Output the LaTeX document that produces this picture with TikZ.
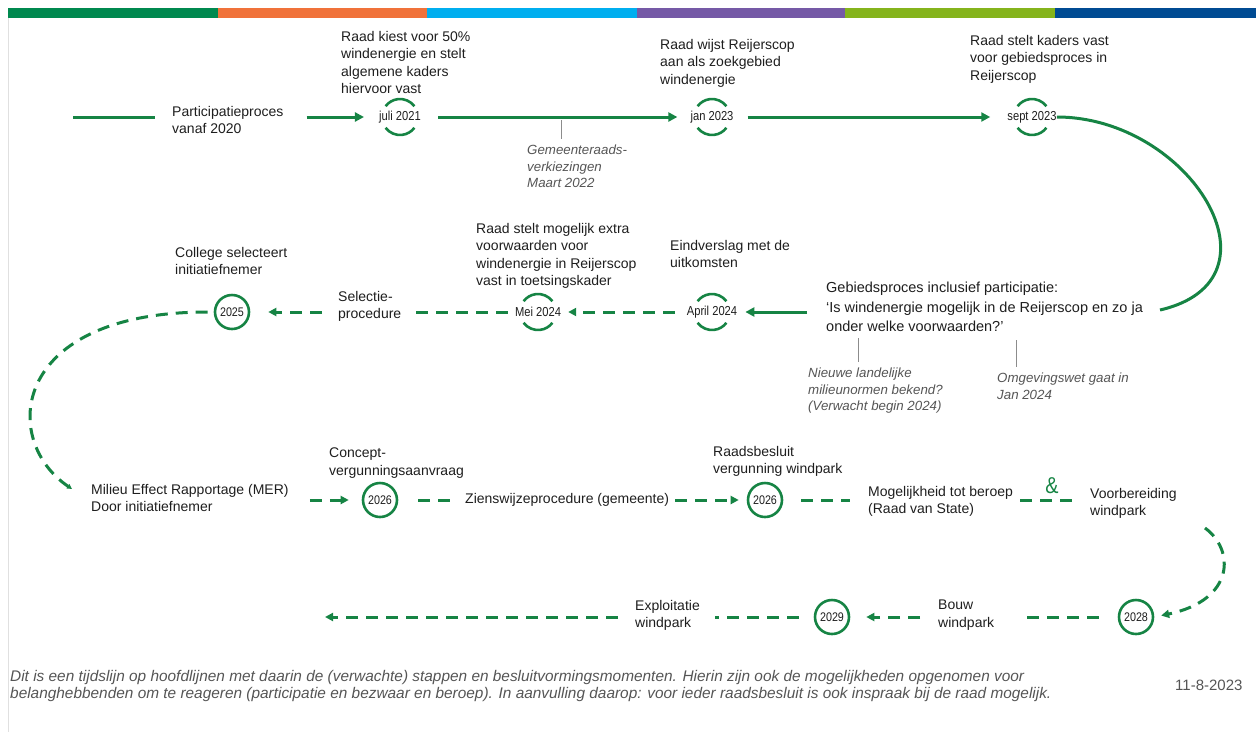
\documentclass[tikz,border=0pt]{standalone}
\usepackage{fontspec}
\setmainfont{Liberation Sans}
\newfontfamily\smal[FakeStretch=0.86]{Liberation Sans}
\usetikzlibrary{arrows.meta,positioning}
\definecolor{tlgroen}{RGB}{22,132,68}
\definecolor{balkgroen}{RGB}{0,137,79}
\definecolor{balkoranje}{RGB}{240,114,58}
\definecolor{balkblauw}{RGB}{0,174,239}
\definecolor{balkpaars}{RGB}{117,89,166}
\definecolor{balklime}{RGB}{133,180,28}
\definecolor{balknavy}{RGB}{0,75,147}
\definecolor{tekst}{RGB}{30,30,30}
\definecolor{grijs}{RGB}{85,85,85}

\begin{document}
\begin{tikzpicture}[x=1pt,y=-1pt]
  \tikzstyle{stap}=[anchor=north west, align=left, inner sep=0pt, text=tekst, font=\fontsize{14}{17.5}\selectfont]
  \tikzstyle{noot}=[stap, text=grijs, font=\itshape\fontsize{13.3}{16.5}\selectfont]
  \tikzstyle{datum}=[inner sep=0pt, text=tekst, font=\smal\fontsize{13}{15}\selectfont]
  \tikzstyle{jaar}=[circle, draw=tlgroen, line width=2.6pt, minimum size=34pt, inner sep=0pt, text=tekst, font=\smal\fontsize{12.5}{14}\selectfont]
  \tikzstyle{lijn}=[draw=tlgroen, line width=3pt]
  \tikzstyle{pijl}=[lijn, -{Triangle[length=9pt,width=9pt]}]
  \tikzstyle{streep}=[lijn, dash pattern=on 12pt off 8pt]
  \tikzstyle{streeppijl}=[streep, -{Triangle[length=8pt,width=8pt]}]
  \tikzstyle{boog}=[draw=tlgroen, line width=2.6pt]
  \tikzstyle{tikje}=[draw=black!45, line width=0.8pt]

  \useasboundingbox (0,0) rectangle (1256,732);
  % kleurenbalk bovenaan
  \foreach \a/\b/\kl in {8/218/balkgroen, 218/427/balkoranje, 427/637/balkblauw, 637/845/balkpaars, 845/1055/balklime, 1055/1256/balknavy}
    \fill[\kl] (\a,8) rectangle (\b,17.5);
  \draw[black!12, line width=1pt] (8,17.5) -- (8,732);

  % rij 1: 2020 - sept 2023
  \coordinate (begin) at (73,117);
  \node[stap] (pp) at (172,106) {Participatieproces\\vanaf 2020};
  \node[datum] (d2021) at (400,117) {juli 2021};
  \node[datum] (d2023a) at (712,117) {jan 2023};
  \node[datum] (d2023b) at (1032,117) {sept 2023};
  \node[stap] (t2021) at (341,31) {Raad kiest voor 50\%\\windenergie en stelt\\algemene kaders\\hiervoor vast};
  \node[stap] (t2023a) at (660,39) {Raad wijst Reijerscop\\aan als zoekgebied\\windenergie};
  \node[stap] (t2023b) at (970,35) {Raad stelt kaders vast\\voor gebiedsproces in\\Reijerscop};
  \node[noot] (n1) at (527,145) {Gemeenteraads-\\verkiezingen\\Maart 2022};
  \coordinate (tik1) at (561,120);

  \draw[lijn, shorten >=17pt] (begin) -- (begin -| pp.west);
  \draw[pijl, shorten <=23pt, shorten >=15pt] (pp.east |- d2021) -- (d2021.west);
  \draw[pijl, shorten <=17pt, shorten >=13pt] (d2021.east) -- (d2023a.west);
  \draw[pijl, shorten <=14pt, shorten >=17pt] (d2023a.east) -- (d2023b.west);
  \draw[tikje, shorten >=6pt] (tik1) -- (tik1 |- n1.north);

  % rij 2: gebiedsproces - 2025
  \node[stap, font=\fontsize{14.5}{19.5}\selectfont] (gebied) at (826,282) {Gebiedsproces inclusief participatie:\\‘Is windenergie mogelijk in de Reijerscop en zo ja\\onder welke voorwaarden?’};
  \coordinate (boogeind) at (1160,310);
  \node[datum] (dApr) at (712,312) {April 2024};
  \node[datum] (dMei) at (538,312) {Mei 2024};
  \node[jaar] (j2025) at (232,312) {2025};
  \node[stap] (tApr) at (670,240) {Eindverslag met de\\uitkomsten};
  \node[stap] (tMei) at (476,223) {Raad stelt mogelijk extra\\voorwaarden voor\\windenergie in Reijerscop\\vast in toetsingskader};
  \node[stap] (t2025) at (175,247) {College selecteert\\initiatiefnemer};
  \node[stap] (sel) at (338,291) {Selectie-\\procedure};
  \node[noot] (n2) at (808,368) {Nieuwe landelijke\\milieunormen bekend?\\(Verwacht begin 2024)};
  \node[noot] (n3) at (997,373) {Omgevingswet gaat in\\Jan 2024};
  \coordinate (tik2) at (858,338);
  \coordinate (tik3) at (1016,340);

  \draw[lijn] (d2023b.east) .. controls (1190,117) and (1290,280) .. (boogeind);
  \draw[pijl, shorten <=19pt, shorten >=8pt] (gebied.west |- dApr) -- (dApr.east);
  \draw[streeppijl, shorten <=12pt, shorten >=7pt] (dApr.west) -- (dMei.east);
  \draw[streep, shorten <=7pt, shorten >=12pt] (dMei.west) -- (sel.east |- dMei);
  \draw[streeppijl, shorten <=16pt, shorten >=18pt] (sel.west |- dMei) -- (j2025.east);
  \draw[tikje, shorten >=6pt] (tik2) -- (tik2 |- n2.north);
  \draw[tikje, shorten >=6pt] (tik3) -- (tik3 |- n3.north);

  % rij 3: MER - voorbereiding
  \node[stap] (mer) at (91,484) {Milieu Effect Rapportage (MER)\\Door initiatiefnemer};
  \coordinate (mereind) at (72,489);
  \node[jaar] (j2026a) at (380,500) {2026};
  \node[stap] (concept) at (329,448) {Concept-\\vergunningsaanvraag};
  \node[stap, anchor=west] (zien) at (465,500) {Zienswijzeprocedure (gemeente)};
  \node[jaar] (j2026b) at (765,500) {2026};
  \node[stap] (besluit) at (713,446) {Raadsbesluit\\vergunning windpark};
  \node[stap] (beroep) at (868,486) {Mogelijkheid tot beroep\\(Raad van State)};
  \node[text=tlgroen, font=\smal\fontsize{23}{23}\selectfont] (en) at (1052,486) {\&};
  \node[stap] (voor) at (1090,488) {Voorbereiding\\windpark};
  \coordinate (voorstart) at (1205,528);

  \draw[streep, -{Triangle[length=5pt,width=5pt]}, shorten <=6pt] (j2025.west) .. controls (10,312) and (0,440) .. (mereind);
  \draw[streeppijl, shorten <=21pt, shorten >=13pt] (mer.east |- j2026a) -- (j2026a.west);
  \draw[streep, shorten <=20pt, shorten >=15pt] (j2026a.east) -- (zien.west);
  \draw[streeppijl, shorten <=6pt, shorten >=8pt] (zien.east) -- (j2026b.west);
  \draw[streep, shorten <=18pt, shorten >=18pt] (j2026b.east) -- (beroep.west |- j2026b);
  \draw[streep, shorten <=7pt, shorten >=15pt] (beroep.east |- j2026b) -- (voor.west |- j2026b);

  % rij 4: bouw en exploitatie
  \node[jaar] (j2028) at (1136,617) {2028};
  \node[stap] (bouw) at (938,600) {Bouw\\windpark};
  \node[jaar] (j2029) at (832,617) {2029};
  \node[stap] (expl) at (635,600) {Exploitatie\\windpark};
  \coordinate (eind) at (325,617);

  \draw[streeppijl, shorten >=7pt] (voorstart) .. controls (1235,550) and (1235,600) .. (j2028.east);
  \draw[streep, shorten <=19pt, shorten >=25pt] (j2028.west) -- (bouw.east |- j2028);
  \draw[streeppijl, shorten <=18pt, shorten >=16pt] (bouw.west |- j2028) -- (j2029.east);
  \draw[streep, shorten <=15pt, shorten >=15pt] (j2029.west) -- (expl.east |- j2029);
  \draw[streeppijl, shorten <=17pt] (expl.west |- j2029) -- (eind);

  % bogen om de datums
  \foreach \d in {d2021,d2023a,d2023b,dApr,dMei}{
    \draw[boog] ([shift={(37:18pt)}]\d.center) arc[start angle=37,end angle=143,radius=18pt];
    \draw[boog] ([shift={(217:18pt)}]\d.center) arc[start angle=217,end angle=323,radius=18pt];
  }

  % voetnoot
  \node[noot, font=\itshape\fontsize{15.4}{17}\selectfont] (voet) at (10,670) {Dit is een tijdslijn op hoofdlijnen met daarin de (verwachte) stappen en besluitvormingsmomenten. Hierin zijn ook de mogelijkheden opgenomen voor\\belanghebbenden om te reageren (participatie en bezwaar en beroep). In aanvulling daarop: voor ieder raadsbesluit is ook inspraak bij de raad mogelijk.};
  \node[stap, anchor=west, text=grijs, font=\fontsize{15}{16}\selectfont] (datumvoet) at (1175,685) {11-8-2023};
\end{tikzpicture}
\end{document}
